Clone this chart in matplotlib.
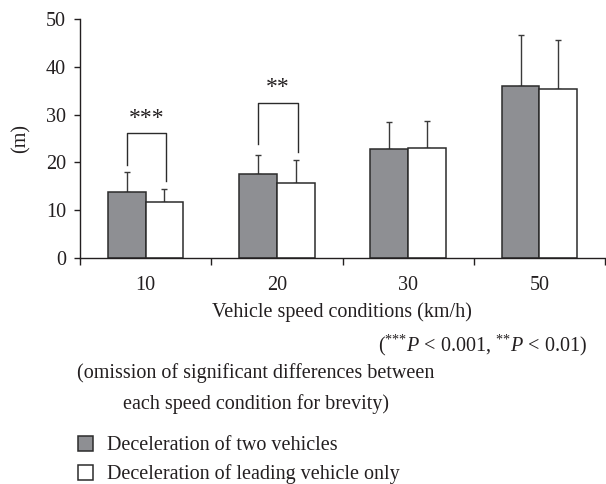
import matplotlib
matplotlib.use("Agg")
import matplotlib.pyplot as plt
import numpy as np

# ---- data ----
categories = ["10", "20", "30", "50"]
two_vehicles = [13.8, 17.6, 22.9, 35.9]
two_vehicles_err = [4.1, 3.9, 5.5, 10.8]
leading_only = [11.65, 15.75, 23.1, 35.4]
leading_only_err = [2.75, 4.75, 5.6, 10.3]
series_labels = ["Deceleration of two vehicles", "Deceleration of leading vehicle only"]
yticks = [0, 10, 20, 30, 40, 50]
# significance brackets: category index, top, left leg end, right leg end, stars
sig_cat = [0, 1]
sig_top = [26.1, 32.5]
sig_left = [19.5, 23.8]
sig_right = [16.1, 22.2]
sig_stars = ["***", "**"]

TXT = "#231f20"
GRAY = "#8e8f93"
EDGE = "#2b2b2b"
FS = 14.5

plt.rcParams["font.family"] = ["Liberation Serif", "DejaVu Serif"]
plt.rcParams["mathtext.fontset"] = "custom"
plt.rcParams["mathtext.rm"] = "Liberation Serif"
plt.rcParams["mathtext.it"] = "Liberation Serif:italic"
plt.rcParams["text.color"] = TXT

W, H = 606, 484
fig = plt.figure(figsize=(W / 100, H / 100), dpi=100)
ax = fig.add_axes([80 / W, 1 - 258 / H, 525 / W, 239 / H])

x = np.arange(len(categories))
bw = 0.287
b1 = ax.bar(x - bw / 2, two_vehicles, bw, color=GRAY, edgecolor=EDGE, linewidth=1.1, zorder=2)
b2 = ax.bar(x + bw / 2, leading_only, bw, color="white", edgecolor=EDGE, linewidth=1.1, zorder=2)
ax.errorbar(x - bw / 2, two_vehicles, yerr=[np.zeros(len(x)), two_vehicles_err], fmt="none",
            ecolor="#3a3a3a", elinewidth=1.0, capsize=2.2, capthick=1.0, zorder=1)
ax.errorbar(x + bw / 2, leading_only, yerr=[np.zeros(len(x)), leading_only_err], fmt="none",
            ecolor="#3a3a3a", elinewidth=1.0, capsize=2.2, capthick=1.0, zorder=1)

for c, top, yl, yr, s in zip(sig_cat, sig_top, sig_left, sig_right, sig_stars):
    xl, xr = c - bw / 2, c + bw / 2 + 0.015
    ax.plot([xl, xl, xr, xr], [yl, top, top, yr], color="#2b2b2b", lw=1.0, zorder=3)
    ax.text((xl + xr) / 2, top + 0.9, s, ha="center", va="bottom", fontsize=17, color=TXT)

ax.set_xlim(-0.5, 3.5)
ax.set_ylim(0, 50)
ax.set_yticks(yticks)
ax.set_xticks(x)
ax.set_xticklabels(categories)
ax.set_xticks(np.arange(-0.5, 3.6, 1.0), minor=True)
ax.tick_params(axis="x", which="major", length=0, pad=13, labelsize=FS, colors=TXT)
ax.tick_params(axis="x", which="minor", length=5, width=1.0, direction="out", color=TXT)
ax.tick_params(axis="y", length=4, width=1.0, pad=6, labelsize=FS, colors=TXT)
for sp in ["top", "right"]:
    ax.spines[sp].set_visible(False)
for sp in ["left", "bottom"]:
    ax.spines[sp].set_linewidth(1.0)
    ax.spines[sp].set_color(TXT)

ax.set_ylabel("(m)", fontsize=FS, color=TXT)
ax.yaxis.set_label_coords(-0.094, 0.5)

def ft(px, py, s, **kw):
    fig.text(px / W, 1 - py / H, s, fontsize=FS, color=TXT, va="center", **kw)

ft(341.5, 312, "Vehicle speed conditions (km/h)", ha="center")
ft(587, 345, r"($^{\text{***}}\mathit{P}$ < 0.001, $^{\text{**}}\mathit{P}$ < 0.01)", ha="right")
ft(77, 373, "(omission of significant differences between", ha="left")
ft(123, 404, "each speed condition for brevity)", ha="left")

leg = fig.legend([b1, b2], series_labels, loc="upper left",
                 bbox_to_anchor=(72 / W, 1 - 430 / H), frameon=False, fontsize=FS,
                 handlelength=0.75, handleheight=0.75, handletextpad=0.7, labelspacing=0.45,
                 borderaxespad=0, borderpad=0.3)

fig.savefig("out.png", dpi=100)
